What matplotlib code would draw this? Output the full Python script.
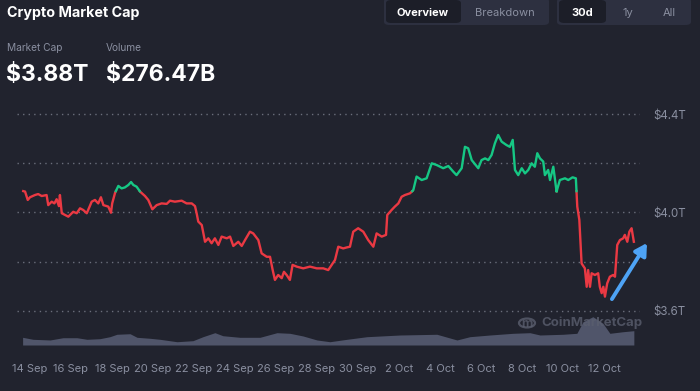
import numpy as np
import pandas as pd
import matplotlib
matplotlib.use("Agg")
import matplotlib.pyplot as plt
import matplotlib.dates as mdates
from matplotlib.patches import FancyBboxPatch, Circle

plt.rcParams['font.family'] = ['Inter', 'DejaVu Sans']

# market cap, days after 14 Sep 2025 00:00 -> value in $T
cap_days = [-0.33, -0.24, -0.11, 0.00, 0.24, 0.40, 0.57, 0.81, 0.89, 1.06, 1.19, 1.30, 1.41, 1.46,
            1.55, 1.71, 1.87, 2.11, 2.28, 2.44, 2.60, 2.77, 3.01, 3.17, 3.33, 3.46, 3.58, 3.82,
            3.95, 4.01, 4.15, 4.31, 4.47, 4.63, 4.80, 4.93, 5.04, 5.20, 5.37, 5.61, 5.77, 5.97,
            6.18, 6.42, 6.67, 6.83, 7.07, 7.40, 7.64, 7.89, 8.05, 8.13, 8.21, 8.38, 8.54, 8.70,
            8.86, 9.02, 9.19, 9.35, 9.60, 9.76, 9.92, 10.16, 10.33, 10.49, 10.73, 10.89, 11.14,
            11.30, 11.55, 11.71, 11.84, 11.95, 12.11, 12.28, 12.39, 12.52, 12.68, 12.81, 13.01,
            13.33, 13.66, 13.99, 14.31, 14.55, 14.72, 14.88, 15.04, 15.28, 15.45, 15.61, 15.77,
            16.01, 16.26, 16.50, 16.75, 16.91, 17.16, 17.37, 17.43, 17.64, 17.80, 17.97, 18.13,
            18.29, 18.54, 18.70, 18.86, 19.11, 19.35, 19.60, 19.84, 20.16, 20.41, 20.65, 20.81,
            21.06, 21.22, 21.38, 21.55, 21.87, 22.03, 22.20, 22.36, 22.52, 22.68, 22.84, 23.01,
            23.25, 23.41, 23.55, 23.66, 23.82, 23.99, 24.15, 24.31, 24.47, 24.63, 24.75, 24.88,
            25.04, 25.12, 25.28, 25.37, 25.53, 25.69, 25.85, 26.10, 26.26, 26.47, 26.63, 26.70,
            26.80, 26.91, 27.07, 27.16, 27.23, 27.32, 27.40, 27.56, 27.72, 27.80, 27.89, 27.97,
            28.05, 28.16, 28.29, 28.45, 28.54, 28.65, 28.78, 28.94, 29.02, 29.14, 29.24, 29.35,
            29.46]
cap_vals = [4.087, 4.085, 4.051, 4.062, 4.071, 4.075, 4.067, 4.071, 4.030, 4.044, 4.037, 4.054,
            4.026, 4.071, 3.997, 3.990, 3.983, 4.003, 3.997, 4.017, 4.010, 3.997, 4.044, 4.051,
            4.037, 4.062, 4.030, 4.024, 3.999, 4.037, 4.080, 4.108, 4.098, 4.102, 4.112, 4.124,
            4.112, 4.105, 4.085, 4.067, 4.051, 4.013, 4.030, 4.037, 4.035, 4.048, 4.044, 4.048,
            4.037, 4.037, 4.026, 3.997, 3.963, 3.949, 3.881, 3.895, 3.875, 3.895, 3.868, 3.902,
            3.895, 3.902, 3.864, 3.881, 3.864, 3.888, 3.922, 3.915, 3.888, 3.834, 3.820, 3.820,
            3.766, 3.726, 3.746, 3.733, 3.759, 3.746, 3.726, 3.787, 3.780, 3.773, 3.780, 3.773,
            3.773, 3.766, 3.787, 3.807, 3.861, 3.854, 3.858, 3.861, 3.922, 3.936, 3.922, 3.888,
            3.861, 3.915, 3.902, 3.909, 3.990, 4.010, 4.024, 4.037, 4.064, 4.071, 4.078, 4.091,
            4.146, 4.132, 4.139, 4.200, 4.193, 4.180, 4.189, 4.166, 4.152, 4.180, 4.267, 4.261,
            4.213, 4.180, 4.213, 4.220, 4.213, 4.234, 4.281, 4.315, 4.288, 4.274, 4.267, 4.295,
            4.173, 4.152, 4.180, 4.159, 4.173, 4.200, 4.186, 4.241, 4.220, 4.207, 4.152, 4.173,
            4.132, 4.186, 4.085, 4.132, 4.139, 4.132, 4.143, 4.139, 4.024, 3.970, 3.793, 3.773,
            3.698, 3.766, 3.698, 3.753, 3.746, 3.753, 3.698, 3.672, 3.698, 3.658, 3.712, 3.739,
            3.746, 3.739, 3.868, 3.888, 3.895, 3.909, 3.881, 3.922, 3.936, 3.881]

# 24h volume, $B
vol_days = [-0.36, 0.15, 0.98, 1.61, 2.29, 2.78, 3.41, 3.90, 4.24, 4.88, 5.22, 5.85, 6.34, 7.17,
            7.95, 8.44, 9.02, 9.41, 10.24, 11.22, 12.05, 12.68, 13.32, 14.00, 14.63, 15.46,
            16.44, 18.05, 19.85, 20.83, 21.46, 22.44, 23.56, 24.39, 24.88, 26.00, 26.68, 26.98,
            27.46, 27.95, 28.29, 28.93, 29.46]
vol_vals = [150, 111, 98, 142, 142, 111, 123, 162, 209, 220, 150, 131, 111, 64, 84, 162, 240,
            181, 150, 150, 240, 228, 176, 98, 64, 111, 162, 195, 209, 98, 162, 195, 228, 240,
            195, 209, 228, 454, 552, 423, 228, 259, 279]

tick_dates = pd.date_range('2025-09-14', '2025-10-12', freq='2D')
y_ticks = [3.6, 3.8, 4.0, 4.2, 4.4]
y_labels = ['$3.6T', '', '$4.0T', '', '$4.4T']

BG = '#21232e'
RED = '#ea3943'
GREEN = '#16c784'
GRID = '#6a6e7b'
MUTED = '#8a8fa0'

start = mdates.date2num(pd.Timestamp('2025-09-14'))
t = start + np.array(cap_days)
v = np.array(cap_vals)
base = cap_vals[0]

# put extra points where the line crosses the opening value so colours switch there
xs, ys = [t[0]], [v[0]]
for i in range(1, len(v)):
    a, b = v[i - 1] - base, v[i] - base
    if a * b < 0:
        f = a / (a - b)
        xs.append(t[i - 1] + f * (t[i] - t[i - 1]))
        ys.append(base)
    xs.append(t[i])
    ys.append(v[i])
xs, ys = np.array(xs), np.array(ys)
up = np.where(ys >= base, ys, np.nan)
down = np.where(ys <= base, ys, np.nan)

W, H = 700, 391
fig = plt.figure(figsize=(7, 3.91), dpi=100, facecolor=BG)


def fx(px):
    return px / W


def fy(py):
    return 1 - py / H


x0, x1 = start - 0.634, start + 29.76
ax = fig.add_axes([fx(17), fy(350), fx(640) - fx(17), fy(100) - fy(350)])
ax.set_facecolor('none')
ax.plot(xs, down, color=RED, lw=1.7, solid_joinstyle='round')
ax.plot(xs, up, color=GREEN, lw=1.7, solid_joinstyle='round')
ax.set_xlim(x0, x1)
ax.set_ylim(4.0 - 137.5 / 246, 4.0 + 112.5 / 246)
ax.set_yticks(y_ticks)
ax.set_yticklabels(y_labels)
ax.yaxis.tick_right()
ax.set_xticks(mdates.date2num(tick_dates))
ax.set_xticklabels([f"{d.day} {d.strftime('%b')}" for d in tick_dates])
ax.tick_params(axis='both', length=0, colors=MUTED, labelsize=8)
ax.tick_params(axis='y', pad=9.5, labelsize=8.3)
ax.tick_params(axis='x', pad=10)
for lab in ax.get_yticklabels():
    lab.set_horizontalalignment('left')
ax.grid(axis='y', color=GRID, linestyle=(0, (1, 3)), linewidth=1)
for s in ax.spines.values():
    s.set_visible(False)

# volume strip under the price line
vax = fig.add_axes([fx(17), fy(345), fx(640) - fx(17), fy(305) - fy(345)], sharex=ax)
vax.set_facecolor('none')
vax.fill_between(start + np.array(vol_days), 0, vol_vals, color='#50556a', lw=0)
vax.set_ylim(0, 40 * 19.5)
vax.axis('off')
vax.set_xlim(x0, x1)

# watermark
fig.patches.append(Circle((fx(527), fy(323)), 8 / W, transform=fig.transFigure,
                          fill=False, ec='#5a5e6e', lw=1.6, alpha=0.8))
fig.text(fx(527), fy(324), 'm', color='#5a5e6e', fontsize=9, fontweight='bold',
         ha='center', va='center', alpha=0.8)
fig.text(fx(541), fy(323), 'CoinMarketCap', color='#5a5e6e', fontsize=9.5,
         fontweight='bold', ha='left', va='center', alpha=0.8)

# blue arrow
ax.annotate('', xy=(start + 30.10, 3.876), xytext=(start + 28.39, 3.648),
            arrowprops=dict(arrowstyle='-|>,head_length=0.7,head_width=0.4',
                            color='#4ea3f5', lw=2.8, shrinkA=0, shrinkB=0),
            annotation_clip=False)

# header
fig.text(fx(7), fy(13), 'Crypto Market Cap', color='white', fontsize=10.3,
         fontweight='bold', ha='left', va='center')
fig.text(fx(7), fy(48), 'Market Cap', color=MUTED, fontsize=7.3, ha='left', va='center')
fig.text(fx(106), fy(48), 'Volume', color=MUTED, fontsize=7.3, ha='left', va='center')
fig.text(fx(6), fy(75), '$3.88T', color='white', fontsize=16.5, fontweight='bold',
         ha='left', va='center')
fig.text(fx(106), fy(75), '$276.47B', color='white', fontsize=16.5, fontweight='bold',
         ha='left', va='center')


def box(l, r, top, bot, color):
    fig.patches.append(FancyBboxPatch((fx(l), fy(bot)), fx(r) - fx(l), fy(top) - fy(bot),
                                      boxstyle='round,pad=0,rounding_size=0.008',
                                      transform=fig.transFigure, fc=color, ec='none'))


box(384, 549, -2, 25, '#2d3040')
box(386, 461, 0, 23, '#1c1e28')
box(557, 691, -2, 25, '#2d3040')
box(559, 606, 0, 23, '#1c1e28')
fig.text(fx(423), fy(12.5), 'Overview', color='white', fontsize=8, fontweight='bold',
         ha='center', va='center')
fig.text(fx(505), fy(12.5), 'Breakdown', color=MUTED, fontsize=8, ha='center', va='center')
fig.text(fx(582), fy(12.5), '30d', color='white', fontsize=8, fontweight='bold',
         ha='center', va='center')
fig.text(fx(628), fy(12.5), '1y', color=MUTED, fontsize=8, ha='center', va='center')
fig.text(fx(669), fy(12.5), 'All', color=MUTED, fontsize=8, ha='center', va='center')

fig.savefig('out.png', dpi=100, facecolor=BG)
